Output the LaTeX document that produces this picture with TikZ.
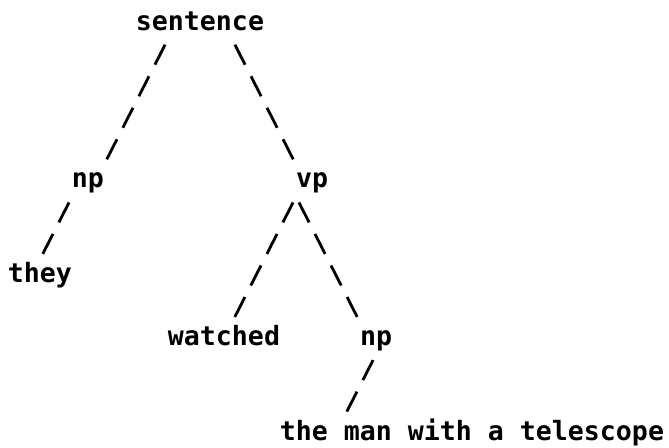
\documentclass[tikz,border=0pt]{standalone}
\usepackage{fontspec}
\setmonofont{DejaVu Sans Mono}
\usetikzlibrary{positioning}

\tikzset{
	word/.style={inner sep=0pt, text height=23.04pt, text depth=8.5pt,
		font=\ttfamily\bfseries\fontsize{26.58pt}{31.5pt}\selectfont},
	branch/.style={line width=2.8pt, dash pattern=on 22.4pt off 12.97pt, dash phase=28.9pt}
}

\begin{document}
\begin{tikzpicture}[on grid]
	\useasboundingbox (0,0) rectangle (669pt,-447pt);

	\node[word] (s) at (200pt,-23pt) {sentence};
	\node[word, below left=157.7pt and 112pt of s] (npa) {np};
	\node[word, below right=157.7pt and 112pt of s] (vp) {vp};
	\node[word, below left=94.62pt and 48pt of npa] (they) {they};
	\node[word, below left=157.7pt and 88pt of vp] (watched) {watched};
	\node[word, below right=157.7pt and 64pt of vp] (npb) {np};
	\node[word, below right=94.62pt and 96pt of npb] (obj) {the man with a telescope};

	\draw[branch]
		([xshift=-32pt]s.south) edge ([xshift=16pt]npa.north)
		([xshift=32pt]s.south) edge ([xshift=-16pt]vp.north)
		([xshift=-16pt]npa.south) edge (they.north)
		([xshift=-16pt]vp.south) edge ([xshift=8pt]watched.north)
		([xshift=-16pt]vp.south) edge ([xshift=-16pt]npb.north)
		(npb.south) edge ([xshift=-128pt]obj.north)
		;
\end{tikzpicture}
\end{document}
